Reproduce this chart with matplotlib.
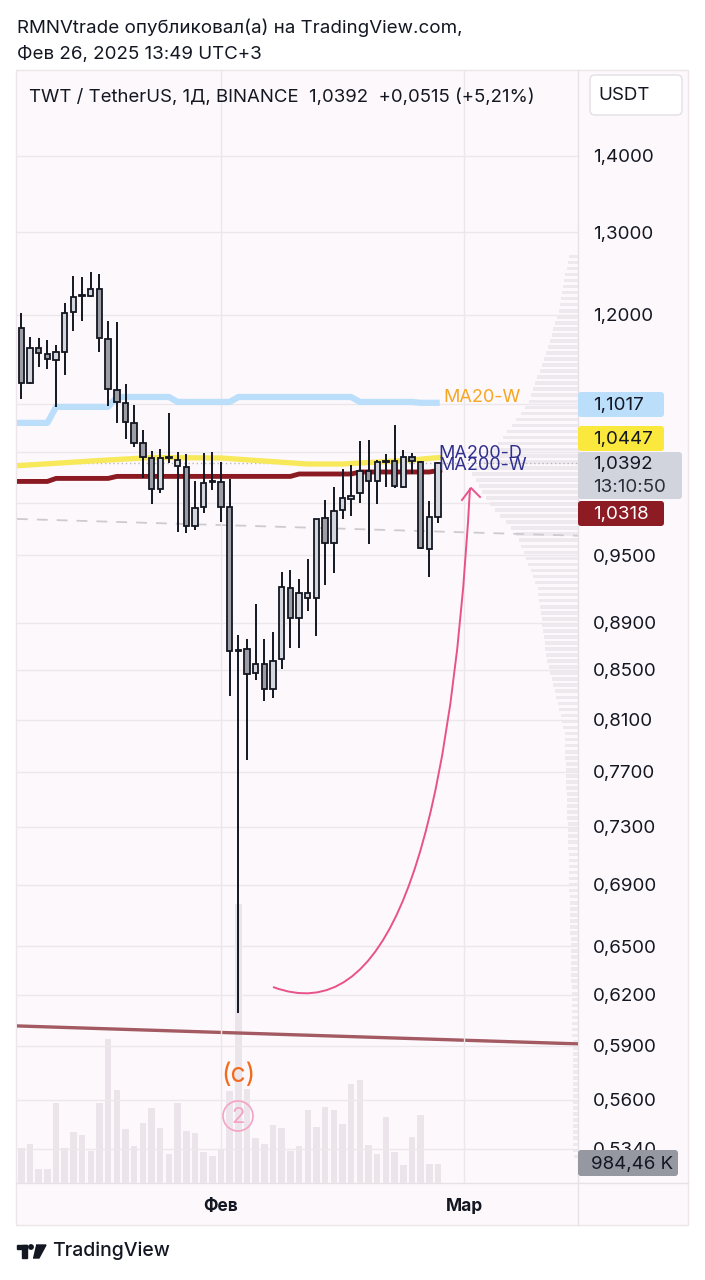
import numpy as np
import matplotlib
matplotlib.use("Agg")
import matplotlib.pyplot as plt
from matplotlib.patches import Rectangle, FancyBboxPatch, Circle, PathPatch
from matplotlib.path import Path
from matplotlib.ticker import NullLocator, NullFormatter

plt.rcParams['font.family'] = ['Inter', 'DejaVu Sans']

# day index, 0 = 1 Feb 2025
days = np.arange(-23, 26)
opens = [1.1847, 1.1231, 1.1619, 1.1552, 1.1484, 1.1574, 1.2032, 1.2221, 1.2221, 1.2304,
         1.1721, 1.1155, 1.1015, 1.0804, 1.0595, 1.0442, 1.0133, 1.0442, 1.0361, 1.0351,
         0.9775, 0.9957, 1.0202, 1.0202, 0.9957, 0.8658, 0.8674, 0.8475, 0.8549, 0.8344,
         0.8591, 0.9204, 0.8940, 0.9115, 0.9115, 0.9851, 0.9615, 0.9928, 1.0034, 1.0093,
         1.0311, 1.0212, 1.0401, 1.0411, 1.0152, 1.0452, 1.0401, 0.9560, 0.9861]
highs = [1.2021, 1.1744, 1.1732, 1.1710, 1.1653, 1.2138, 1.2460, 1.2448, 1.2509, 1.2485,
         1.1928, 1.1916, 1.1220, 1.0994, 1.0730, 1.0513, 1.0534, 1.0909, 1.0503, 1.0483,
         1.0212, 1.0493, 1.0503, 1.0401, 1.0231, 0.8793, 0.8759, 0.9062, 0.8759, 0.8819,
         0.9348, 0.9366, 0.9285, 0.9467, 0.9842, 1.0025, 1.0152, 1.0331, 1.0371, 1.0616,
         1.0626, 1.0421, 1.0483, 1.0782, 1.0523, 1.0493, 1.0411, 1.0015, 1.0401]
lows = [1.1058, 1.1220, 1.1407, 1.1384, 1.0973, 1.1318, 1.1813, 1.1928, 1.2210, 1.1574,
        1.0983, 1.0804, 1.0637, 1.0554, 1.0241, 0.9986, 1.0093, 1.0392, 0.9718, 0.9709,
        0.9737, 0.9899, 1.0123, 0.9813, 0.8288, 0.6092, 0.7788, 0.8418, 0.8248, 0.8272,
        0.8508, 0.8683, 0.8683, 0.9001, 0.8785, 0.9231, 0.9339, 0.9842, 0.9870, 0.9996,
        0.9606, 0.9986, 1.0152, 1.0142, 1.0142, 1.0281, 0.9560, 0.9303, 0.9803]
closes = [1.1231, 1.1619, 1.1563, 1.1496, 1.1574, 1.2021, 1.2209, 1.2233, 1.2304, 1.1732,
          1.1166, 1.1026, 1.0814, 1.0595, 1.0452, 1.0133, 1.0442, 1.0452, 1.0421, 0.9775,
          0.9947, 1.0192, 1.0212, 0.9957, 0.8658, 0.8666, 0.8467, 0.8549, 0.8344, 0.8574,
          0.9213, 0.8940, 0.9159, 0.9159, 0.9842, 0.9615, 0.9918, 1.0044, 1.0064, 1.0311,
          1.0212, 1.0401, 1.0411, 1.0162, 1.0452, 1.0411, 0.9569, 0.9861, 1.0392]
volumes_k = [1829, 2036, 710, 710, 4160, 1829, 2657, 2486, 1658, 4160,
             7444, 4817, 2813, 1901, 3092, 3869, 2865, 1518, 4160, 2694,
             2574, 1621, 1414, 1777, 4766, 14452, 4854, 2315, 2036, 2989,
             2865, 1658, 1901, 3781, 2901, 3937, 3766, 3041, 5144, 5320,
             1968, 1487, 3419, 1606, 932, 2383, 3522, 969, 984]

# moving averages (day index -24 .. 25)
ma_days = np.arange(-24, 26)
ma20w = [1.0804] * 5 + [1.0973] * 7 + [1.1079] * 7 + [1.1026] * 7 + [1.1079] * 14 + [1.1026] * 7 + [1.1017] * 3
ma_yellow = np.interp(ma_days, [-24, -15, -8, 0, 5, 10, 14, 18, 22, 25],
                      [1.0361, 1.0411, 1.0447, 1.0442, 1.0411, 1.0381, 1.0381, 1.0401, 1.0421, 1.0447])
ma_red = [1.0207] * 5 + [1.0237] * 7 + [1.0257] * 21 + [1.0281] * 7 + [1.0301] * 9 + [1.0318]

price_ticks = [1.4, 1.3, 1.2, 1.1, 1.05, 1.0, 0.95, 0.89, 0.85, 0.81, 0.77, 0.73, 0.69, 0.65, 0.62, 0.59, 0.56, 0.534]
price_labels = ['1,4000', '1,3000', '1,2000', '', '', '', '0,9500', '0,8900', '0,8500', '0,8100',
                '0,7700', '0,7300', '0,6900', '0,6500', '0,6200', '0,5900', '0,5600', '0,5340']
month_ticks = [0, 28]
month_labels = ['Фев', 'Мар']

# visible range volume profile (price level, relative length)
vp_prices = np.exp(np.linspace(np.log(0.53), np.log(1.27), 150))
vp_len = np.interp(vp_prices, [0.53, 0.60, 0.70, 0.80, 0.86, 0.92, 0.97, 1.00, 1.03, 1.06, 1.10, 1.15, 1.20, 1.27],
                   [4, 5, 8, 12, 28, 36, 55, 80, 95, 70, 45, 30, 18, 8])

trend_days = [-23.5, 41.13]
trend_red = [0.6016, 0.5912]
trend_dash = [0.9842, 0.9683]

W, H = 705, 1280
fig = plt.figure(figsize=(W / 100, H / 100), dpi=100)
fig.patch.set_facecolor('white')

# background layer in pixel coordinates
bg = fig.add_axes([0, 0, 1, 1], zorder=0)
bg.set_xlim(0, W)
bg.set_ylim(H, 0)
bg.axis('off')
bg.add_patch(Rectangle((16, 70), 672, 1155, facecolor='#fdf8fb', edgecolor='#ece6ea', lw=1))
bg.plot([578, 578], [70, 1225], color='#e6e1e5', lw=1)
bg.plot([16, 688], [1183, 1183], color='#e6e1e5', lw=1)

rect = [17 / W, 1 - 1183 / H, 561 / W, 1113 / H]
xlim = (-23.5, 41.13)

# volume layer
axv = fig.add_axes(rect, zorder=1)
axv.patch.set_visible(False)
axv.bar(days, volumes_k, width=0.75, color='#ebe4ea', edgecolor='none')
axv.set_ylim(0, 57650)
axv.set_xlim(*xlim)
axv.axis('off')

# price layer
ax = fig.add_axes(rect, zorder=2)
ax.patch.set_visible(False)
ax.set_yscale('log')
ax.set_ylim(0.5165, 1.5219)
ax.set_xlim(*xlim)
for s in ax.spines.values():
    s.set_visible(False)

ax.yaxis.tick_right()
ax.set_yticks(price_ticks)
ax.set_yticklabels(price_labels)
ax.yaxis.set_minor_locator(NullLocator())
ax.yaxis.set_minor_formatter(NullFormatter())
ax.tick_params(axis='y', length=0, pad=11, labelsize=13.5, labelcolor='#131722')
ax.set_xticks(month_ticks)
ax.set_xticklabels(month_labels, fontweight='bold')
ax.tick_params(axis='x', length=0, pad=11, labelsize=12.5, labelcolor='#131722')
ax.grid(True, color='#ece7eb', lw=1)

# volume profile rows
row_h = np.diff(np.log(vp_prices)).mean()
vp_x1 = xlim[1]
scale = (xlim[1] - xlim[0]) * 0.2 / 100
for p, l in zip(vp_prices, vp_len):
    lo = p * np.exp(-row_h * 0.3)
    hi = p * np.exp(row_h * 0.3)
    ax.fill_between([vp_x1 - l * scale, vp_x1], lo, hi, color='#ebe6eb', alpha=0.8, lw=0, zorder=0.5)

# trend lines
ax.plot(trend_days, trend_red, color='#a35a62', lw=2.4, zorder=1)
ax.plot(trend_days, trend_dash, color='#cdcad0', lw=1.3, ls=(0, (6, 5)), zorder=1)
ax.axhline(closes[-1], color='#b9b6bd', lw=1, ls=(0, (1, 2)), zorder=1)

# moving averages
ma_x = ma_days[:-1].tolist() + [25.2]
ax.plot(ma_x, ma20w, color='#bbdefb', lw=4.5, solid_capstyle='butt', zorder=2)
ax.plot(ma_x, ma_yellow, color='#f7e95a', lw=3.8, zorder=2)
ax.plot(ma_x, ma_red, color='#8b1a22', lw=3.5, zorder=2)

# candles
o = np.array(opens); c = np.array(closes)
up = c >= o
ax.vlines(days, lows, highs, color='#131722', lw=1.4, zorder=3)
bottoms = np.minimum(o, c)
heights = np.maximum(np.abs(c - o), 0.0008)
ax.bar(days, heights, bottom=bottoms, width=0.62,
       color=np.where(up, '#d4d6de', '#9d9ea5'), edgecolor='#131722', lw=1.3, zorder=4)

# overlay: labels, tags, drawings
ov = fig.add_axes([0, 0, 1, 1], zorder=5)
ov.set_xlim(0, W)
ov.set_ylim(H, 0)
ov.axis('off')

ov.text(17, 28, 'RMNVtrade опубликовал(а) на TradingView.com,', fontsize=13.5, color='#131722', va='center')
ov.text(17, 55, 'Фев 26, 2025 13:49 UTC+3', fontsize=13.5, color='#131722', va='center')
ov.text(29, 97, 'TWT / TetherUS, 1Д, BINANCE  1,0392  +0,0515 (+5,21%)', fontsize=13.4,
        color='#131722', va='center')

ov.add_patch(FancyBboxPatch((590, 75), 92, 40, boxstyle='round,pad=0,rounding_size=5',
                            facecolor='white', edgecolor='#e3e0e4', lw=1))
ov.text(598, 96, 'USDT', fontsize=13.5, color='#131722', va='center')

tags = [(392, 86, 25, '#bbdefb', '#131722', '1,1017'),
        (426, 86, 25, '#fbe83d', '#131722', '1,0447'),
        (501, 86, 25, '#8c1b24', 'white', '1,0318')]
for y0, w, h, fc, tc, t in tags:
    ov.add_patch(FancyBboxPatch((578, y0), w, h, boxstyle='round,pad=0,rounding_size=3',
                                facecolor=fc, edgecolor='none'))
    ov.text(593, y0 + h / 2 + 1, t, fontsize=13.5, color=tc, va='center')
ov.add_patch(FancyBboxPatch((578, 452), 104, 47, boxstyle='round,pad=0,rounding_size=3',
                            facecolor='#d1d4dc', edgecolor='none'))
ov.text(593, 464, '1,0392', fontsize=13.5, color='#131722', va='center')
ov.text(593, 487, '13:10:50', fontsize=13.5, color='#2a2e39', va='center')
ov.add_patch(FancyBboxPatch((578, 1150), 100, 26, boxstyle='round,pad=0,rounding_size=3',
                            facecolor='#9598a1', edgecolor='none'))
ov.text(591, 1164, '984,46 K', fontsize=13.5, color='#131722', va='center')

ov.text(443, 398, 'MA20-W', fontsize=13, color='#f5a623', va='center')
ov.text(438, 453, 'MA200-D', fontsize=13, color='#2f2f8f', va='center')
ov.text(438, 466, 'MA200-W', fontsize=13, color='#2f2f8f', va='center')

ov.text(238, 1075, '(c)', fontsize=19, color='#f26b1d', ha='center', va='center')
ov.add_patch(Circle((238, 1116), 15, facecolor='none', edgecolor='#f4a3c2', lw=1.2))
ov.text(238, 1117, '2', fontsize=16, color='#f4a3c2', ha='center', va='center')

arrow = Path([(273, 987), (440, 1050), (470, 488)], [Path.MOVETO, Path.CURVE3, Path.CURVE3])
ov.add_patch(PathPatch(arrow, facecolor='none', edgecolor='#e8528a', lw=1.4))
ov.plot([462, 471, 480], [500, 488, 497], color='#e8528a', lw=1.4)

ov.text(52, 1251, 'TradingView', fontsize=14, color='#131722', va='center', fontweight='medium')
ov.add_patch(Rectangle((17, 1245), 10, 4, color='#131722'))
ov.add_patch(Rectangle((22, 1245), 5, 13, color='#131722'))
ov.add_patch(Circle((31, 1247), 2.2, color='#131722'))
ov.add_patch(PathPatch(Path([(36, 1245), (46, 1245), (39, 1258), (33, 1258)]), color='#131722'))

fig.savefig('out.png', dpi=100)
